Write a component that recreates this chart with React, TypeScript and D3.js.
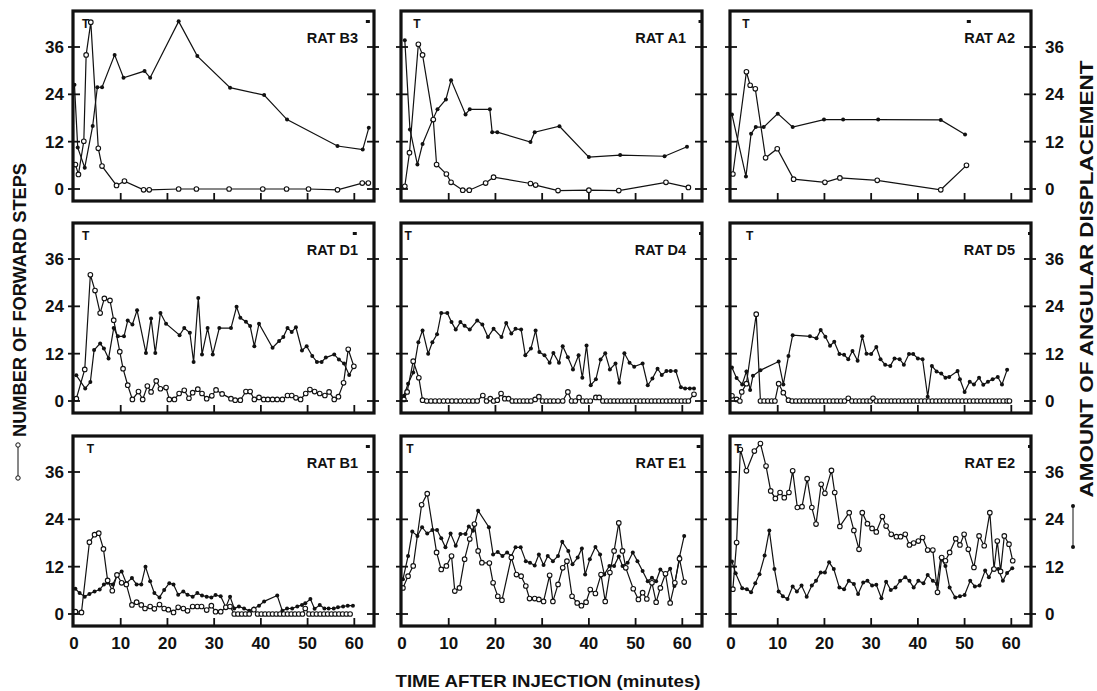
import * as d3 from "d3";

type Pt = [number, number];

// [minutes, value]; open circles = forward steps, dots = angular displacement
const b3Steps: Pt[] = [[0.3,6.2],[0.95,3.7],[2.1,12.1],[2.6,34],[3.6,42.3],[5.2,10.3],[6,5.8],[9.1,0.9],[10.8,2],[14.9,-0.2],[16.1,-0.2],[22.4,0],[26.2,0],[33.2,0],[40.4,0],[45.5,0],[50.2,0],[56.4,-0.2],[61.7,1.5],[63,1.5]];
const b3Angle: Pt[] = [[0.1,26.4],[0.8,10.5],[2.3,5.4],[4,16],[5,25.8],[6,25.8],[8.7,34],[10.6,28.2],[15.1,29.9],[16.3,28.2],[22.4,42.5],[26.4,33.7],[33.4,25.7],[40.7,23.8],[45.6,17.6],[56.4,10.9],[61.8,10],[63.1,15.5]];

const a1Steps: Pt[] = [[0.6,0.7],[1.6,9.2],[3.5,36.7],[4.4,34],[6.7,17.6],[7.4,6.2],[9.5,3.8],[10.5,1.7],[13,-0.3],[14.4,-0.3],[17.9,1.5],[19.6,3],[27.5,1.4],[28.6,1],[33.4,-0.4],[40,-0.3],[46.4,-0.4],[56.5,1.7],[61.3,0.4]];
const a1Angle: Pt[] = [[0.6,37.7],[1.7,15.1],[3.3,6.2],[4.4,11.4],[6.5,17.4],[7.6,20.2],[9.4,22.7],[10.5,27.6],[13.6,18.9],[14.5,20.2],[18.8,20.2],[19.3,14.4],[20.4,14.4],[27.5,11.9],[28.4,14.4],[33.7,15.9],[40,8.1],[46.7,8.6],[56.2,8.3],[61,10.7]];

const a2Steps: Pt[] = [[0.4,3.8],[3.3,29.7],[4.1,26.3],[5.2,25.4],[7.4,7.9],[9.9,10.2],[13.4,2.5],[20.1,1.7],[23.3,2.8],[31.3,2.2],[44.9,-0.2],[50.4,6]];
const a2Angle: Pt[] = [[0.2,18.9],[3.2,3.2],[4.3,14],[5.3,15.7],[7,15.7],[10,19.1],[13.2,15.7],[19.9,17.6],[24,17.6],[31.5,17.6],[44.9,17.5],[50.1,13.8]];

const d1Steps: Pt[] = [[0.5,0.6],[2.3,8],[3.5,32],[4.5,28],[5.6,22.3],[6.5,26],[7.7,25.5],[8.5,20.5],[9.8,12.5],[10.5,8.2],[11.5,4],[12.5,0.4],[13.8,2.4],[14.7,0.4],[15.7,3.8],[16.5,2.3],[17.6,5.1],[18.5,3.1],[19.7,3.4],[20.4,0.4],[21.5,0.4],[22.5,1.9],[23.6,2.7],[24.6,0.7],[25.4,2.1],[26.5,3],[27.4,1.9],[28.4,0.6],[29.5,1.3],[30.4,2.8],[31.7,1.8],[33.6,0.6],[34.5,0.2],[35.6,0.2],[36.8,2.4],[37.7,2.4],[38.6,0.4],[39.6,0.9],[40.6,0.4],[41.5,0.4],[42.5,0.4],[43.5,0.4],[44.6,0.4],[45.7,1.4],[46.6,1.4],[47.5,0.8],[48.5,0.4],[49.6,1.9],[50.5,2.9],[51.5,2.4],[52.6,1.9],[53.7,1.4],[54.6,2.3],[55.7,0.4],[56.6,1.1],[57.7,4.6],[58.7,13.1],[59.9,8.8]];
const d1Angle: Pt[] = [[0.5,6.5],[2.4,3.2],[3.5,4.8],[4.3,12.9],[5.6,14.6],[6.4,13.3],[7.4,10.8],[8.5,18.5],[9.4,16.4],[10.7,16.4],[11.5,20.4],[12.5,19.4],[13.5,23],[15.4,12.2],[16.5,20.9],[17.4,12.2],[18.5,22.3],[19.7,19.6],[22.6,16.7],[23.6,18.5],[24.8,17.3],[25.6,9.9],[26.6,26.1],[27.4,11.8],[28.6,18.5],[29.7,11.8],[31.1,18.5],[33.6,18.5],[34.8,23.9],[35.6,21.1],[36.8,20.1],[37.7,19],[38.6,13.9],[39.6,19.6],[42.5,13.5],[43.9,15.2],[44.8,16.2],[45.7,18.5],[46.6,17.5],[47.5,18.7],[48.8,12.8],[49.8,13.9],[51,11.4],[52,9.9],[53,9.9],[53.9,11],[55.7,11.8],[56.7,10.5],[57.8,9.5],[58.9,6.6],[59.9,8.8]];

const d4Steps: Pt[] = [[0.4,0.4],[1.1,2.3],[2.4,10.1],[3.6,5.9],[4.4,0.2],[5.3,0],[6.2,0],[7.1,0],[8,0],[8.9,0],[9.8,0],[10.7,0],[11.6,0],[12.5,0],[13.4,0],[14.3,0],[15.2,0],[16.1,0],[17.3,1.4],[18.1,0],[18.9,0.6],[19.6,0],[20.4,0.2],[21.2,1.9],[22,0.6],[22.8,0.6],[23.6,0],[24.4,0],[25.2,0],[26,0],[26.8,0],[27.6,0],[28.5,0.4],[29.3,1.1],[30.1,0],[30.9,0],[31.7,0],[32.5,0],[33.4,0],[34.4,0],[35.5,2.3],[36.3,0],[37.1,0],[37.9,0.9],[38.7,0],[39.5,0],[40.3,0],[41.5,0.9],[42.2,0.9],[43,0],[43.8,0],[44.6,0],[45.4,0],[46.2,0],[47,0],[47.8,0],[48.6,0],[49.4,0],[50.2,0],[51,0],[51.8,0],[52.6,0],[53.4,0],[54.2,0],[55,0],[55.8,0],[56.6,0],[57.4,0],[58.2,0],[59,0],[59.8,0],[60.6,0],[61.3,0],[62.5,1.7]];
const d4Angle: Pt[] = [[0.4,1.3],[1.3,4.4],[2.4,7.2],[3.5,14.9],[4.4,17.9],[5.6,12],[6.5,14.9],[7.5,16.9],[8.4,22.3],[9.7,22.3],[10.6,20],[11.5,18.1],[12.5,20],[13.4,19.1],[14.5,18.1],[16.1,20.4],[17.2,19.4],[18.4,16.2],[19.6,18.3],[21.3,16.2],[22.3,19.8],[23.4,17.1],[24.3,18.3],[25.5,18.1],[26.4,11.6],[27.6,13.3],[28.6,17.9],[29.4,12.4],[30.5,11.6],[31.6,9.7],[32.4,12.2],[33.6,9.7],[34.4,13.9],[35.5,11.1],[36.6,8],[37.8,11.6],[38.6,5.9],[39.5,14.1],[40.4,4],[41.5,5.5],[42.5,10.5],[43.5,12.1],[44.5,8],[45.7,9.5],[46.5,4.6],[47.6,12.1],[48.7,9.7],[49.7,8.7],[51.5,9.5],[52.6,4],[53.6,5.7],[54.7,8.2],[55.6,6.6],[56.6,7.6],[57.5,7.6],[58.6,7.6],[59.7,3.5],[60.6,3.2],[61.6,3.2],[62.5,3.2]];

const d5Steps: Pt[] = [[0.2,1.3],[1.2,0.4],[1.9,0],[2.3,2.3],[3.3,4.4],[5.4,22],[6.3,0],[7.1,0],[7.9,0],[8.7,0],[9.4,0],[10.2,4.4],[11.2,2.1],[12.3,0.2],[13.1,0],[13.9,0],[14.7,0],[15.5,0],[16.3,0],[17.1,0],[17.9,0],[18.7,0],[19.5,0],[20.3,0],[21.1,0],[21.9,0],[22.7,0],[23.5,0],[24.3,0],[25.1,0.7],[25.9,0],[26.7,0],[27.5,0],[28.3,0],[29.1,0],[29.8,0],[30.4,0.7],[31.1,0],[31.9,0],[32.7,0],[33.5,0],[34.3,0],[35.1,0],[35.9,0],[36.7,0],[37.5,0],[38.3,0],[39.1,0],[39.9,0],[40.7,0],[41.5,0],[42.3,0],[43.1,0],[43.9,0],[44.7,0],[45.5,0],[46.3,0],[47.1,0],[47.9,0],[48.7,0],[49.5,0],[50.3,0],[51.1,0],[51.9,0],[52.7,0],[53.5,0],[54.3,0],[55.1,0],[55.9,0],[56.7,0],[57.5,0],[58.3,0],[59.1,0],[59.6,0]];
const d5Angle: Pt[] = [[0.2,8.5],[1.2,5.8],[2.4,4.2],[3.3,7.5],[4.1,2.8],[4.7,6.4],[6.3,7.8],[10.2,10],[11.2,4.2],[12.3,11.4],[13.2,16.7],[16.9,16.4],[18.3,15.9],[19.2,18],[20.2,16.3],[21.2,14],[22.1,15],[23.2,11.9],[24.2,11.7],[25.1,10.6],[26,12.7],[27.1,10.2],[28.1,16.4],[29,12],[30,11.9],[31.1,13.7],[32,10.6],[33,9.2],[34.1,8.9],[35,10.8],[36.1,10.6],[37,9.2],[38.1,11.9],[39,11.9],[40,10.8],[41,10.6],[42.1,1.1],[43,8.9],[44,7.5],[45,7],[45.9,5.9],[46.7,6.1],[48.5,7.6],[49,5.5],[50,2.3],[51.1,4.9],[52,4.2],[53.1,5.9],[54,4.1],[55,4.9],[56,5.5],[57.1,6.1],[58,4.2],[59.1,7.9]];

const b1Steps: Pt[] = [[0.3,0.6],[1.6,0.4],[3.3,18.2],[4.4,20.1],[5.3,20.5],[6.3,16.5],[7.2,8.5],[8.2,5.9],[9.2,9.9],[10.2,7.9],[11.2,7.5],[12.4,2.3],[13.4,3],[14.4,2.3],[15.2,1.4],[16.3,1.9],[17.2,1.3],[18.3,2.4],[19.3,1.4],[20.2,1.1],[21.3,0.4],[22.3,1.7],[23.4,1.4],[24.3,0.8],[25.4,1.9],[26.4,1.9],[27.3,1.9],[28.4,1],[29.4,2.1],[30.3,0.6],[31.4,0.6],[32.5,1.7],[33.4,1.9],[34.3,0],[35.1,0],[35.9,0],[36.7,0],[37.5,0],[38.5,1.1],[39.3,0],[40.1,0],[40.9,0],[41.7,0],[42.5,0],[43.3,0],[44.1,0],[44.9,0],[45.7,0],[46.5,0],[47.3,0],[48.1,0],[48.9,0],[49.5,1.4],[50.3,0],[51.1,0],[51.9,0],[52.7,0],[53.5,0],[54.3,0],[55.1,0],[55.9,0],[56.7,0],[57.5,0],[58.3,0],[59.1,0]];
const b1Angle: Pt[] = [[0.3,6.4],[1.2,5.3],[2.3,4.4],[3.3,5.1],[4.4,5.7],[5.5,6.2],[6.4,7.5],[7.2,7.9],[8.3,7.5],[9.2,9.7],[10.2,10.8],[11.2,7.8],[12.4,9.1],[13.4,7.5],[14.4,7.5],[15.3,12],[16.3,8.3],[17.2,5.3],[18.3,4.2],[19.3,6.1],[20.4,7.8],[21.3,7.5],[22.3,4.9],[23.4,5.7],[24.3,4.9],[25.4,4.4],[26.4,5.3],[27.4,4.7],[28.4,4.4],[29.4,4.2],[30.3,4.8],[31.4,4.5],[32.5,1.7],[33.4,4.4],[34.3,1.4],[35.3,1.9],[36.4,1.4],[37.5,0.8],[38.5,1.4],[39.6,2.1],[40.7,3.2],[43.5,4.7],[44.6,0.8],[45.6,1.4],[46.7,1.4],[47.8,1.9],[48.8,2.3],[49.5,2.7],[50.6,3.8],[51.5,1.3],[52.6,2.3],[53.6,1.4],[54.5,1.4],[55.6,1.4],[56.5,1.7],[57.6,1.9],[58.6,2.1],[59.7,2.1]];

const e1Steps: Pt[] = [[0.2,6.6],[1.3,9.6],[2.4,12.2],[4.2,27.7],[5.4,30.5],[7.4,15.6],[8.4,11.3],[9.5,12.2],[10.6,14.7],[11.3,5.8],[12.3,6.6],[13.4,13.9],[14.5,19],[15.5,22.8],[16.3,16],[17.1,13],[18.7,12.9],[19.5,7.9],[20.5,4.5],[21.4,3.5],[23.4,14.3],[24.5,10],[25.5,9.6],[26.5,7.1],[27.3,3.9],[28.4,3.9],[29.3,3.7],[30.3,3.2],[31.6,9.8],[32.3,3.2],[33.4,7.5],[34.4,11.7],[35.3,13.4],[36.4,4.5],[37.5,2.8],[38.4,2.1],[39.4,3],[40.3,6.2],[41.4,5.2],[42.6,10],[43.5,3.2],[44.5,10.5],[45.4,16],[46.4,23.1],[47.2,16],[47.9,11.7],[49.5,6.4],[50.6,3.7],[51.5,5.4],[52.4,3.8],[53.5,7.9],[54.4,3],[55.3,6.6],[56.4,10.2],[57.4,2.8],[58.4,7.9],[59.4,14],[60.4,8.1]];
const e1Angle: Pt[] = [[0.2,8.8],[1.3,14.7],[2.2,20.9],[3.3,19.8],[4.3,22],[5.4,20.4],[6.5,21.3],[7.5,21.3],[8.4,19.2],[9.3,16.9],[10.4,20.4],[11.5,17.3],[12.5,20.3],[13.6,20.3],[14.3,22.2],[15.2,21.1],[16.3,26.2],[18.6,22],[19.5,15.1],[20.5,15.7],[21.5,14.7],[22.5,15.6],[23.4,14.7],[24.3,16.9],[25.4,16.9],[26.5,13.4],[27.4,13],[28.4,12.3],[29.3,15.1],[30.3,12.4],[31.2,14.7],[32.3,13.4],[33.4,14.7],[34.3,18.3],[35.6,16],[36.5,12.6],[37.6,14.3],[38.5,16.6],[39.2,10],[40.2,13.9],[41.4,17],[42.4,15.1],[43.3,10],[44.4,12.2],[45.4,12.2],[46.4,14.6],[47.2,12.2],[48.3,13],[49.4,15.6],[50.4,13.4],[51.5,10.9],[52.6,8.3],[53.5,9.2],[54.4,8.3],[55.3,11.3],[56.4,10],[57.4,11.5],[58.3,7.1],[59.4,14.5],[60.4,19.8]];

const e2Steps: Pt[] = [[0.4,6.3],[1.2,18.1],[2,41.7],[3.3,36.3],[5,41.3],[6.3,43.2],[7.5,37.5],[8.5,31.2],[9.5,29.3],[10.5,30.8],[11.4,29.5],[12.4,30.8],[13.2,36.3],[14.2,27],[15.2,27.2],[16.3,34.3],[17.3,27],[18.2,22.8],[19.3,32.9],[20.1,30.6],[21.5,36.4],[22.2,30.8],[23.3,22.2],[25.3,25.7],[26.3,21.2],[27.4,16.4],[28.1,25.7],[29.2,22.9],[30.2,21.7],[31.1,20.8],[32.4,24.7],[33.2,22.3],[34.3,20.2],[35.4,19.6],[36.3,19.6],[37.3,20.2],[38.2,17.5],[39.1,18],[40.1,18.5],[41,19.4],[42.1,16.2],[43.2,16.2],[44.2,5.5],[45.1,14.3],[45.9,13.5],[46.8,15.6],[48.1,19.1],[49,17.5],[49.9,20.2],[50.8,16.4],[52,11.8],[53.1,19.8],[54.2,17.3],[55.4,25.7],[56.3,11.4],[57,18.5],[57.7,10.8],[58.5,19.8],[59.5,17.7],[60.3,13.5]];
const e2Angle: Pt[] = [[0.2,13.3],[1,10.3],[2.4,6.5],[3.4,6.3],[4.3,5.5],[5.2,7.8],[6.1,10.1],[7.2,14.8],[8.2,21.2],[9.3,11.4],[10.2,5.7],[11.1,4.5],[12.1,3.8],[13.2,7],[14.1,5.7],[15.1,7.2],[16.2,4.4],[17.3,7.2],[18.2,8.4],[19.2,10.5],[20.1,10.5],[21,13.1],[22,11.4],[23.2,6.7],[24.2,6.3],[25.2,8.4],[26.3,7.6],[27.2,5.1],[28.3,8],[29.2,8.4],[30.2,7.2],[31.1,7.4],[32.2,4],[33.2,8.2],[34.2,6.1],[35.2,6.7],[36.2,8.4],[37.3,9.3],[38.2,8.4],[39.1,6.7],[40.1,8.4],[41.2,7.8],[42.1,9.9],[43.2,8.4],[44.1,7.6],[44.9,14.3],[45.9,12.2],[46.8,6.7],[48,4.2],[49,4.5],[50,4.8],[51.2,8.4],[52.2,7],[53.2,7.2],[54.4,11],[55.2,9.3],[56.1,11.4],[57.2,11.4],[58.2,8.4],[59.1,10.4],[60.2,11.6]];

const ratNames = ["RAT B3", "RAT A1", "RAT A2", "RAT D1", "RAT D4", "RAT D5", "RAT B1", "RAT E1", "RAT E2"];
const stepSeries = [b3Steps, a1Steps, a2Steps, d1Steps, d4Steps, d5Steps, b1Steps, e1Steps, e2Steps];
const angleSeries = [b3Angle, a1Angle, a2Angle, d1Angle, d4Angle, d5Angle, b1Angle, e1Angle, e2Angle];
// time of the little "T" mark and of the small corner tag in each panel
const tMarks = [2.5, 3.2, 3.2, 2.5, 1.3, 4, 3.5, 1.7, 1.5];
const cornerMarks = [62.9, 63.9, 50.9, 60.1, 64, 64, 62.9, 63.5, 64];

const yTicks = [0, 12, 24, 36];
const xTicks = [0, 10, 20, 30, 40, 50, 60];

const width = 1097;
const height = 691;
const colLeft = [73, 401, 730];
const rowTop = [11, 223, 436];
const panelW = 301;
const panelH = 190;
const font = "'Liberation Sans', Arial, Helvetica, sans-serif";

const Panel = ({ i }: { i: number }) => {
  const col = i % 3;
  const row = Math.floor(i / 3);
  const left = colLeft[col];
  const top = rowTop[row];
  const right = left + panelW;
  const bottom = top + panelH;

  const x = d3.scaleLinear().domain([0, 64]).range([left + 1, left + 300]);
  const y = d3.scaleLinear().domain([0, 36]).range([top + 178, top + 36]);

  const line = d3
    .line<Pt>()
    .x((d) => x(d[0]))
    .y((d) => y(d[1]));

  const steps = stepSeries[i];
  const angle = angleSeries[i];

  return (
    <g>
      <path d={line(angle) as string} fill="none" stroke="#111" strokeWidth={1.2} />
      <path d={line(steps) as string} fill="none" stroke="#111" strokeWidth={1.2} />
      {angle.map((d, k) => (
        <circle key={"a" + k} cx={x(d[0])} cy={y(d[1])} r={2} fill="#111" />
      ))}
      {steps.map((d, k) => (
        <circle key={"s" + k} cx={x(d[0])} cy={y(d[1])} r={2.3} fill="#fff" stroke="#111" strokeWidth={1.1} />
      ))}

      <rect x={left} y={top} width={panelW} height={panelH} fill="none" stroke="#111" strokeWidth={3.2} />

      {yTicks.map((t) => (
        <g key={"yt" + t}>
          <line x1={left - 5} x2={left + 7} y1={y(t)} y2={y(t)} stroke="#111" strokeWidth={1.8} />
          <line x1={right - 7} x2={right + 5} y1={y(t)} y2={y(t)} stroke="#111" strokeWidth={1.8} />
        </g>
      ))}
      {xTicks
        .filter((t) => t > 0)
        .map((t) => (
          <line key={"xt" + t} x1={x(t)} x2={x(t)} y1={bottom} y2={bottom - 8} stroke="#111" strokeWidth={1.8} />
        ))}

      <text x={x(tMarks[i])} y={top + 17} fontFamily={font} fontWeight={700} fontSize={12} textAnchor="middle" fill="#111">
        T
      </text>
      <rect x={x(cornerMarks[i]) - 2} y={top + 9} width={4} height={3} fill="#111" />
      <text x={right - 16} y={top + 32} fontFamily={font} fontWeight={700} fontSize={14.5} textAnchor="end" fill="#111">
        {ratNames[i]}
      </text>

      {col === 0 &&
        yTicks.map((t) => (
          <text key={"yl" + t} x={64} y={y(t) + 6} fontFamily={font} fontWeight={700} fontSize={17} textAnchor="end" fill="#111">
            {t}
          </text>
        ))}
      {col === 2 &&
        yTicks.map((t) => (
          <text key={"yr" + t} x={1045} y={y(t) + 6} fontFamily={font} fontWeight={700} fontSize={17} textAnchor="start" fill="#111">
            {t}
          </text>
        ))}
      {row === 2 &&
        xTicks.map((t) => (
          <text key={"xl" + t} x={x(t)} y={649} fontFamily={font} fontWeight={700} fontSize={17} textAnchor="middle" fill="#111">
            {t}
          </text>
        ))}
    </g>
  );
};

const App = () => {
  return (
    <svg
      width={width}
      height={height}
      viewBox={`0 0 ${width} ${height}`}
      style={{ position: "absolute", left: 0, top: 0, background: "#fff" }}
    >
      {ratNames.map((_, i) => (
        <Panel key={i} i={i} />
      ))}

      <text
        transform="translate(26,300) rotate(-90)"
        fontFamily={font}
        fontWeight={700}
        fontSize={19}
        textAnchor="middle"
        textLength={274}
        lengthAdjust="spacingAndGlyphs"
        fill="#111"
      >
        NUMBER OF FORWARD STEPS
      </text>
      <line x1={18} x2={18} y1={445} y2={478} stroke="#111" strokeWidth={1} />
      <circle cx={18} cy={445} r={2.2} fill="#fff" stroke="#111" />
      <circle cx={18} cy={478} r={2.2} fill="#fff" stroke="#111" />

      <text
        transform="translate(1093,279) rotate(-90)"
        fontFamily={font}
        fontWeight={700}
        fontSize={18}
        textAnchor="middle"
        textLength={437}
        lengthAdjust="spacingAndGlyphs"
        fill="#111"
      >
        AMOUNT OF ANGULAR DISPLACEMENT
      </text>
      <line x1={1073} x2={1073} y1={506} y2={547} stroke="#111" strokeWidth={1} />
      <circle cx={1073} cy={506} r={2} fill="#111" />
      <circle cx={1073} cy={547} r={2} fill="#111" />

      <text
        x={548}
        y={687}
        fontFamily={font}
        fontWeight={700}
        fontSize={17}
        textAnchor="middle"
        textLength={305}
        lengthAdjust="spacingAndGlyphs"
        fill="#111"
      >
        TIME AFTER INJECTION (minutes)
      </text>
    </svg>
  );
};

export default App;
